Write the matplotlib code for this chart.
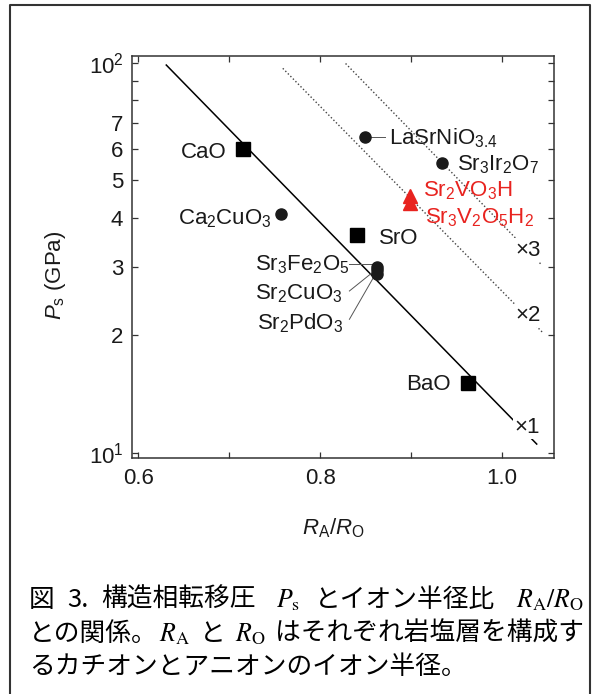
import matplotlib
matplotlib.use('Agg')
import matplotlib.pyplot as plt
from matplotlib.ticker import FixedLocator, FixedFormatter, NullFormatter
from matplotlib.lines import Line2D

plt.rcParams['font.family'] = ['Liberation Sans', 'DejaVu Sans']
plt.rcParams['mathtext.fontset'] = 'custom'
plt.rcParams['mathtext.rm'] = 'Liberation Sans'
plt.rcParams['mathtext.it'] = 'Liberation Sans:italic'
plt.rcParams['mathtext.bf'] = 'Liberation Sans:bold'

# ---------------- data ----------------
square_names = ['CaO', 'SrO', 'BaO']
square_x = [0.715, 0.841, 0.963]
square_y = [60.0, 36.2, 15.1]

circle_names = ['Ca$_2$CuO$_3$', 'LaSrNiO$_{3.4}$', 'Sr$_3$Ir$_2$O$_7$',
                'Sr$_3$Fe$_2$O$_5$', 'Sr$_2$CuO$_3$', 'Sr$_2$PdO$_3$']
circle_x = [0.757, 0.849, 0.934, 0.863, 0.863, 0.863]
circle_y = [41.0, 64.6, 55.3, 30.0, 29.4, 28.8]

tri_names = ['Sr$_2$VO$_3$H', 'Sr$_3$V$_2$O$_5$H$_2$']
tri_x = [0.899, 0.899]
tri_y = [45.6, 43.6]

# guide lines (end points)
x1_x = [0.631, 1.038]
x1_y = [98.6, 10.54]
x2_x = [0.759, 1.045]
x2_y = [96.7, 20.3]
x3_x = [0.828, 1.043]
x3_y = [99.5, 30.4]
guide_names = ['×1', '×2', '×3']

x_major = [0.6, 0.8, 1.0]
x_major_labels = ['0.6', '0.8', '1.0']
x_minor = [0.7, 0.9]
y_major = [10, 20, 30, 40, 50, 60, 70, 100]
y_major_labels = ['$10^1$', '2', '3', '4', '5', '6', '7', '$10^2$']
y_minor = [80, 90]

caption_line1 = ['図', '3.', '構造相転移圧', '$P_\\mathrm{s}$', 'とイオン半径比',
                 '$R_\\mathrm{A}/R_\\mathrm{O}$']
caption_line2 = ['との関係。', '$R_\\mathrm{A}$', 'と', '$R_\\mathrm{O}$',
                 'はそれぞれ岩塩層を構成す']
caption_line3 = 'るカチオンとアニオンのイオン半径。'

# ---------------- figure ----------------
W, H = 601, 694
fig = plt.figure(figsize=(W / 100, H / 100), dpi=100)
ax = fig.add_axes([131.7 / W, 1 - 458.3 / H, (554 - 131.7) / W, (458.3 - 56) / H])
ax.set_yscale('log')
ax.set_xlim(0.593, 1.057)
ax.set_ylim(9.69, 104)

RED = '#e8231f'
FS = 16
TXT = '#1a1a1a'

# guide lines
ax.plot(x1_x, x1_y, color='black', lw=1.1, zorder=2)
ax.plot(x2_x, x2_y, color='#444444', lw=1.0, ls=(0, (1, 1.6)), zorder=2)
ax.plot(x3_x, x3_y, color='#444444', lw=1.0, ls=(0, (1, 1.6)), zorder=2)

# connectors
conn = dict(color='#555555', lw=0.7, zorder=2)
ax.plot([0.8559, 0.8716], [64.6, 64.6], **conn)
ax.plot([0.8322, 0.8596], [30.4, 30.4], **conn)
ax.plot([0.8322, 0.8607], [26.0, 29.4], **conn)
ax.plot([0.8322, 0.8607], [22.0, 28.7], **conn)

# markers
ax.plot(square_x, square_y, ls='none', marker='s', ms=9.5, color='black', zorder=4)
ax.plot(circle_x, circle_y, ls='none', marker='o', ms=8, color=TXT, zorder=4)
ax.plot(tri_x, tri_y, ls='none', marker='^', ms=10, color=RED, mec=RED, zorder=4)

# labels
def lab(x, y, s, ha='left', color=TXT):
    ax.text(x, y, s, ha=ha, va='baseline', fontsize=FS, color=color, zorder=5)

lab(0.6975, 56.9, square_names[0], ha='right')
lab(0.8643, 34.3, square_names[1])
lab(0.9436, 14.5, square_names[2], ha='right')
lab(0.7464, 38.4, circle_names[0], ha='right')
lab(0.876, 61.9, circle_names[1])
lab(0.9508, 53.1, circle_names[2])
lab(0.729, 29.3, circle_names[3])
lab(0.729, 24.7, circle_names[4])
lab(0.731, 20.7, circle_names[5])
lab(0.9133, 45.4, tri_names[0], color=RED)
lab(0.9154, 38.8, tri_names[1], color=RED)

for (gx, gy), s in zip([(1.0272, 11.62), (1.0283, 22.5), (1.0283, 33.1)], guide_names):
    ax.text(gx, gy, s, ha='center', va='center', fontsize=FS, color=TXT, zorder=5,
            bbox=dict(facecolor='white', edgecolor='none', pad=0.8))

# ticks
ax.xaxis.set_major_locator(FixedLocator(x_major))
ax.xaxis.set_major_formatter(FixedFormatter(x_major_labels))
ax.xaxis.set_minor_locator(FixedLocator(x_minor))
ax.xaxis.set_minor_formatter(NullFormatter())
ax.yaxis.set_major_locator(FixedLocator(y_major))
ax.yaxis.set_major_formatter(FixedFormatter(y_major_labels))
ax.yaxis.set_minor_locator(FixedLocator(y_minor))
ax.yaxis.set_minor_formatter(NullFormatter())
ax.tick_params(which='both', direction='in', top=True, right=True, length=4.5,
               width=0.9, color='#333333', labelsize=FS, labelcolor=TXT)
ax.tick_params(axis='x', which='both', pad=7)
ax.tick_params(axis='y', which='both', pad=6)
for sp in ax.spines.values():
    sp.set_linewidth(1.1)
    sp.set_color('#333333')

# axis titles
fig.text(55 / W, 1 - 275 / H, '$P_\\mathrm{s}$ (GPa)', rotation=90, ha='center', va='center',
         fontsize=FS, color=TXT)
fig.text(333 / W, 1 - 528 / H, '$R_\\mathrm{A}/R_\\mathrm{O}$', ha='center', va='center',
         fontsize=FS, color=TXT)

# caption (justified lines)
renderer = fig.canvas.get_renderer()
cap_kw = dict(ha='left', va='baseline', fontsize=18.5,
              family=['Noto Sans CJK JP', 'DejaVu Sans'], math_fontfamily='stix', color='black')
X0, X1 = 29, 584

def justified(segments, weights, ybase):
    texts = [fig.text(0, 1 - ybase / H, s, **cap_kw) for s in segments]
    widths = [t.get_window_extent(renderer).width for t in texts]
    unit = (X1 - X0 - sum(widths)) / sum(weights)
    x = X0
    for i, (t, w) in enumerate(zip(texts, widths)):
        t.set_x(x / W)
        if i < len(weights):
            x += w + unit * weights[i]

justified(caption_line1, [0.7, 0.7, 1.1, 0.8, 1.2], 607)
justified(caption_line2, [0.15, 1.0, 1.0, 1.0], 641)
fig.text(X0 / W, 1 - 674 / H, caption_line3, **cap_kw)

# frame
fx0, fx1, fy0 = 10.5 / W, 590 / W, 1 - 5 / H
fig.add_artist(Line2D([fx0, fx0, fx1, fx1], [0, fy0, fy0, 0], transform=fig.transFigure,
                      color='#333333', lw=1.5))

fig.savefig('out.png', dpi=100)
